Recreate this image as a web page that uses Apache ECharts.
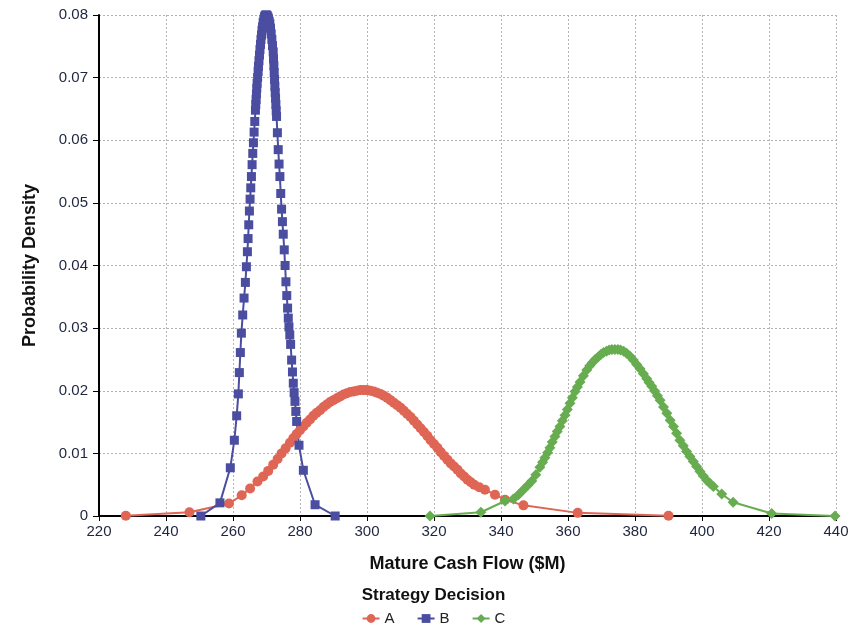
<!DOCTYPE html>
<html>
<head>
<meta charset="utf-8">
<script src="https://cdn.jsdelivr.net/npm/echarts@6/dist/echarts.min.js"></script>
<style>
  html, body { margin: 0; padding: 0; background: #ffffff; }
  #chart { width: 867px; height: 628px; }
</style>
</head>
<body>
<div id="chart"></div>
<script>
// Density curves of mature cash flow for each strategy: [cash flow ($M), density]
const strategyA = [
  [228, 0.00003], [247, 0.0006], [258.8, 0.0020], [262.6, 0.0033], [265.1, 0.0044],
  [267.3, 0.0055], [269, 0.0063], [270.5, 0.0072], [272, 0.0082], [273.3, 0.0091],
  [274.5, 0.0100], [275.7, 0.0108], [277, 0.0117], [278, 0.0124], [279, 0.0131],
  [280, 0.0137], [281, 0.0143], [282, 0.0149], [283, 0.0154], [284, 0.0160],
  [285, 0.0165], [286, 0.0169], [287, 0.0174], [288, 0.0178], [289, 0.0182],
  [290, 0.0185], [291, 0.0188], [292, 0.0191], [293, 0.0194], [294, 0.0196],
  [295, 0.0198], [296, 0.0199], [297, 0.0200], [298, 0.0201], [299, 0.0201],
  [300, 0.0201], [301, 0.0200], [302, 0.0199], [303, 0.0197], [304, 0.0195],
  [305, 0.0192], [306, 0.0189], [307, 0.0185], [308, 0.0181], [309, 0.0177],
  [310, 0.0173], [311, 0.0168], [312, 0.0163], [313, 0.0158], [314, 0.0152],
  [315, 0.0146], [316, 0.0140], [317, 0.0134], [318, 0.0128], [319, 0.0121],
  [320, 0.0115], [321, 0.0109], [322, 0.0102], [323, 0.0096], [324, 0.0090],
  [325, 0.0084], [326, 0.0079], [327, 0.0074], [328, 0.0068], [329, 0.0063],
  [330, 0.0058], [331, 0.0054], [332, 0.0050], [333.5, 0.0046], [335.2, 0.0042],
  [338.2, 0.0034], [341.2, 0.0026], [346.7, 0.0017], [362.9, 0.0005], [390, 0.00005]
];

const strategyB = [
  [250.4, 0], [256.1, 0.0021], [259.2, 0.0077], [260.4, 0.0121], [261.1, 0.0160],
  [261.6, 0.0195], [261.9, 0.0229], [262.2, 0.0261], [262.5, 0.0292], [262.9, 0.0321],
  [263.3, 0.0348], [263.7, 0.0373], [264.0, 0.0398], [264.3, 0.0422], [264.5, 0.0443],
  [264.7, 0.0465], [264.9, 0.0487], [265.1, 0.0506], [265.3, 0.0524], [265.5, 0.0542],
  [265.7, 0.0561], [265.9, 0.0579], [266.1, 0.0596], [266.3, 0.0613], [266.5, 0.0630],
  [266.7, 0.0648], [266.8, 0.0657], [266.9, 0.0665], [267.0, 0.0674], [267.1, 0.0683],
  [267.2, 0.0691], [267.35, 0.0700], [267.5, 0.0710], [267.6, 0.0718], [267.75, 0.0727],
  [267.9, 0.0736], [268.05, 0.0745], [268.2, 0.0753], [268.35, 0.0761], [268.5, 0.0768],
  [268.65, 0.0775], [268.8, 0.0781], [269.0, 0.0788], [269.2, 0.0793], [269.4, 0.0797],
  [269.6, 0.0799], [269.8, 0.0800], [270.0, 0.0800], [270.2, 0.0799], [270.4, 0.0797],
  [270.6, 0.0794], [270.8, 0.0790], [271.0, 0.0786], [271.2, 0.0779], [271.4, 0.0770],
  [271.6, 0.0761], [271.8, 0.0751], [272.0, 0.0741], [272.1, 0.0730], [272.2, 0.0719],
  [272.3, 0.0708], [272.4, 0.0697], [272.5, 0.0686], [272.6, 0.0676], [272.7, 0.0667],
  [272.8, 0.0657], [272.9, 0.0647], [273.0, 0.0638], [273.25, 0.0612], [273.5, 0.0585],
  [273.75, 0.0562], [274.0, 0.0542], [274.25, 0.0515], [274.5, 0.0490], [274.75, 0.0470],
  [275.0, 0.0450], [275.3, 0.0425], [275.55, 0.0400], [275.8, 0.0374], [276.05, 0.0352],
  [276.3, 0.0332], [276.5, 0.0316], [276.7, 0.0302], [276.95, 0.0289], [277.2, 0.0274],
  [277.5, 0.0249], [277.75, 0.0230], [278.0, 0.0212], [278.25, 0.0197], [278.5, 0.0183],
  [278.75, 0.0167], [279.0, 0.0151], [279.7, 0.0113], [281.0, 0.0073], [284.5, 0.0018],
  [290.5, 0]
];

const strategyC = [
  [318.8, 0], [334.0, 0.0006], [341.2, 0.0024], [343.7, 0.0027], [345.2, 0.0034],
  [346.7, 0.0042], [348.0, 0.0049], [349.2, 0.0056], [350.4, 0.0066], [351.6, 0.0078],
  [352.4, 0.0086], [353.1, 0.0093], [353.9, 0.0101], [354.6, 0.0109], [355.3, 0.0118],
  [356.1, 0.0127], [356.8, 0.0135], [357.6, 0.0143], [358.3, 0.0152], [359.1, 0.0161],
  [359.8, 0.0170], [360.6, 0.0180], [361.3, 0.0189], [362.1, 0.0199], [362.8, 0.0206],
  [363.6, 0.0214], [364.6, 0.0224], [365.6, 0.0233], [366.5, 0.0240], [367.3, 0.0245],
  [368.1, 0.0250], [369.0, 0.0254], [369.8, 0.0258], [370.6, 0.0261], [371.5, 0.0263],
  [372.3, 0.0265], [373.1, 0.0266], [374.0, 0.0266], [374.9, 0.0266], [375.7, 0.0265],
  [376.6, 0.0263], [377.5, 0.0260], [378.5, 0.0255], [379.5, 0.0249], [380.5, 0.0242],
  [381.5, 0.0235], [382.5, 0.0227], [383.5, 0.0219], [384.2, 0.0213], [385.0, 0.0207],
  [385.8, 0.0200], [386.7, 0.0192], [387.5, 0.0185], [388.5, 0.0174], [389.5, 0.0164],
  [390.5, 0.0153], [391.5, 0.0143], [392.4, 0.0132], [393.4, 0.0121], [394.4, 0.0112],
  [395.4, 0.0103], [396.4, 0.0095], [397.4, 0.0087], [398.4, 0.0079], [399.4, 0.0071],
  [400.4, 0.0064], [401.4, 0.0057], [402.4, 0.0052], [403.4, 0.0047], [405.9, 0.0035],
  [409.3, 0.0022], [420.8, 0.0004], [439.7, 0]
];

const strategyNames = ['A', 'B', 'C'];
const xTicks = { min: 220, max: 440, step: 20 };
const yTicks = { min: 0, max: 0.08, step: 0.01 };

const colors = ['#df6555', '#4a4da0', '#67ad50'];
const symbols = ['circle', 'rect', 'diamond'];
const symbolSizes = [10, 9, 11];
const seriesData = [strategyA, strategyB, strategyC];

const FONT = 'Liberation Sans, Arial, sans-serif';
const chart = echarts.init(document.getElementById('chart'));
const labelFont = { fontFamily: FONT, fontSize: 15, color: '#1e2540' };
const nameFont = { fontFamily: FONT, fontSize: 18, fontWeight: 'bold', color: '#111' };
const gridLine = { show: true, lineStyle: { color: '#b4b4b4', type: [2, 2], width: 1 } };

chart.setOption({
  animation: false,
  backgroundColor: '#ffffff',
  title: {
    text: 'Strategy Decision',
    left: 'center',
    top: 587,
    padding: 0,
    textStyle: { fontFamily: FONT, fontSize: 17, fontWeight: 'bold', color: '#111' }
  },
  legend: {
    data: strategyNames.map((name, i) => ({ name: name, itemStyle: { color: colors[i] } })),
    left: 'center',
    top: 611,
    padding: 0,
    itemGap: 22,
    itemWidth: 17,
    itemHeight: 11,
    textStyle: { fontFamily: FONT, fontSize: 15, color: '#222' }
  },
  grid: { left: 99, right: 31, top: 15, bottom: 112, containLabel: false },
  xAxis: {
    type: 'value',
    min: xTicks.min,
    max: xTicks.max,
    interval: xTicks.step,
    name: 'Mature Cash Flow ($M)',
    nameLocation: 'middle',
    nameGap: 39,
    nameTextStyle: nameFont,
    axisLine: { show: true, onZero: false, lineStyle: { color: '#000', width: 2 } },
    axisTick: { show: true, length: 5, lineStyle: { color: '#000', width: 1 } },
    axisLabel: Object.assign({ margin: 8 }, labelFont),
    splitLine: gridLine
  },
  yAxis: {
    type: 'value',
    min: yTicks.min,
    max: yTicks.max,
    interval: yTicks.step,
    name: 'Probability Density',
    nameLocation: 'middle',
    nameGap: 60,
    nameTextStyle: nameFont,
    axisLine: { show: true, lineStyle: { color: '#000', width: 2 } },
    axisTick: { show: true, length: 6, lineStyle: { color: '#000', width: 1 } },
    axisLabel: Object.assign({ margin: 11 }, labelFont),
    splitLine: gridLine
  },
  series: strategyNames.map((name, i) => ({
    name: name,
    type: 'line',
    data: seriesData[i],
    clip: false,
    symbol: symbols[i],
    symbolSize: symbolSizes[i],
    showAllSymbol: true,
    color: colors[i],
    lineStyle: { color: colors[i], width: 2 },
    itemStyle: { color: colors[i], borderWidth: 0 },
    emphasis: { disabled: true }
  }))
});
</script>
</body>
</html>
